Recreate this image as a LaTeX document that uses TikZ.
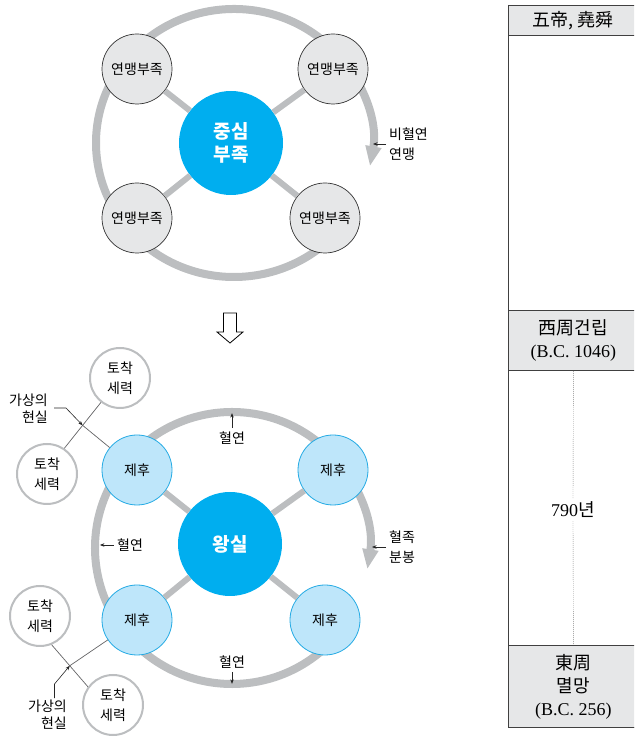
\documentclass[tikz,border=0pt]{standalone}
\usepackage{fontspec}
\setmainfont{Liberation Serif}
\newfontfamily\kr{Noto Sans CJK KR}
\usetikzlibrary{arrows.meta,calc,backgrounds}

\definecolor{ringgray}{RGB}{188,190,192}
\definecolor{tribefill}{RGB}{230,231,232}
\definecolor{royal}{RGB}{0,174,239}
\definecolor{lordfill}{RGB}{190,230,250}
\definecolor{lordline}{RGB}{35,170,228}
\definecolor{inkgray}{RGB}{100,100,102}

\begin{document}
\begin{tikzpicture}[x=1pt,y=1pt,
    font=\kr\fontsize{14}{20}\selectfont,
    hub/.style={circle,fill=royal,minimum size=104pt,inner sep=0pt,align=center,
      text=white,font=\kr\bfseries\fontsize{19}{23}\selectfont},
    tribe/.style={circle,draw=black!80,line width=0.7pt,fill=tribefill,
      minimum size=70pt,inner sep=0pt},
    lord/.style={circle,draw=lordline,line width=0.8pt,fill=lordfill,
      minimum size=70pt,inner sep=0pt},
    native/.style={circle,draw=ringgray,line width=2pt,fill=white,
      minimum size=60pt,inner sep=0pt,align=center},
    spoke/.style={ringgray,line width=6pt},
    ring/.style={ringgray,line width=8pt,-{Triangle[width=15pt,length=20pt]}},
    note/.style={-{Stealth[length=4.5pt,width=3.5pt]},line width=0.6pt,black!85},
    tie/.style={inkgray,line width=0.7pt},
    label/.style={inner sep=0pt,align=left},
    cell/.style={draw=black!75,line width=0.8pt,fill=tribefill,anchor=north west,
      minimum width=130pt,inner sep=0pt,align=center,
      font=\fontsize{18}{23}\selectfont},
  ]
    \clip (0,0) rectangle (634,738);

    % alliance of tribes
    \node[hub] (clan) at (231,595) {중심\\부족};
    \node[tribe] (a1) at (137,669) {연맹부족};
    \node[tribe] (a2) at (333,669) {연맹부족};
    \node[tribe] (a3) at (137,520) {연맹부족};
    \node[tribe] (a4) at (325,520) {연맹부족};
    \foreach \t in {a1,a2,a3,a4}
      \draw[spoke] (clan) -- (\t);
    \begin{scope}[on background layer]
      \coordinate (o1) at (234,595);
      \draw[ring] (o1) ++(321:138 and 134)
        arc[start angle=321,end angle=-10,x radius=138,y radius=134];
    \end{scope}
    \node[label,anchor=west] (nonkin) at (389,594) {비혈연\\연맹};
    \draw[note] ([xshift=-3pt]nonkin.west) -- ++(-13,0);

    % open arrow
    \draw[line width=0.8pt,fill=white] (223.5,425) -- (236.5,425) -- (236.5,406)
      -- (243,406) -- (230,395) -- (217,406) -- (223.5,406) -- cycle;

    % royal house and fiefs
    \node[hub] (house) at (230,194) {왕실};
    \node[lord] (l1) at (137,268) {제후};
    \node[lord] (l2) at (333,268) {제후};
    \node[lord] (l3) at (137,118) {제후};
    \node[lord] (l4) at (325,118) {제후};
    \foreach \t in {l1,l2,l3,l4}
      \draw[spoke] (house) -- (\t);
    \begin{scope}[on background layer]
      \coordinate (o2) at (232,190);
      \draw[ring] (o2) ++(322:137 and 136)
        arc[start angle=322,end angle=-9,x radius=137,y radius=136];
    \end{scope}
    \node (kin1) at (232,300) {혈연};
    \draw[note] (kin1.north) -- ++(0,15);
    \node[label] (kin2) at (130,193) {혈연};
    \draw[note] ([xshift=-3pt]kin2.west) -- ++(-14,0);
    \node (kin3) at (232,76) {혈연};
    \draw[note] (kin3.south) -- ++(0,-12);
    \node[label,anchor=west] (split) at (389,191) {혈족\\분봉};
    \draw[note] ([xshift=-3pt]split.west) -- ++(-14,0);

    % local powers
    \node[native] (n1) at (120,360) {토착\\세력};
    \node[native] (n2) at (47,264) {토착\\세력};
    \node[native] (n3) at (40,122) {토착\\세력};
    \node[native] (n4) at (113,33) {토착\\세력};
    \draw[tie] (n1.-128) -- (n2.56);
    \coordinate (x1) at ($(n1.-128)!0.5!(n2.56)$);
    \draw[tie] (l1) -- (x1);
    \draw[tie] (n3.-68) -- (n4.144);
    \coordinate (x2) at ($(n3.-68)!0.5!(n4.144)$);
    \draw[tie] (l3) -- (x2);
    \node[label,align=right,anchor=east,font=\kr\fontsize{14}{17}\selectfont]
      (virt1) at (48,329) {가상의\\현실};
    \draw[note] ([xshift=6pt,yshift=1pt]virt1.east) -- ++(12,0) -- (x1);
    \node[label,align=right,anchor=east,font=\kr\fontsize{14}{17}\selectfont]
      (virt2) at (67,23) {가상의\\현실};
    \draw[note] ([xshift=7pt,yshift=2pt]virt2.north) -- ++(0,14) -- (x2);

    % time line
    \draw[black!75,line width=0.8pt] (508,733) -- (508,11) -- (640,11);
    \node[cell,minimum height=30pt] (wudi) at (508,733) {\kr 五帝, 堯舜};
    \node[cell,minimum height=60pt] (xizhou) at (508,428) {{\kr 西周건립}\\(B.C. 1046)};
    \node[cell,minimum height=82pt] (dongzhou) at (508,93)
      {{\kr 東周}\\{\kr 멸망}\\(B.C. 256)};
    \node[font=\fontsize{18}{23}\selectfont,inner sep=3pt] (span) at (573,228) {790{\kr 년}};
    \draw[gray,dash pattern=on 1pt off 1pt] (xizhou.south) -- (span.north);
    \draw[gray,dash pattern=on 1pt off 1pt] (span.south) -- (dongzhou.north);
\end{tikzpicture}
\end{document}
